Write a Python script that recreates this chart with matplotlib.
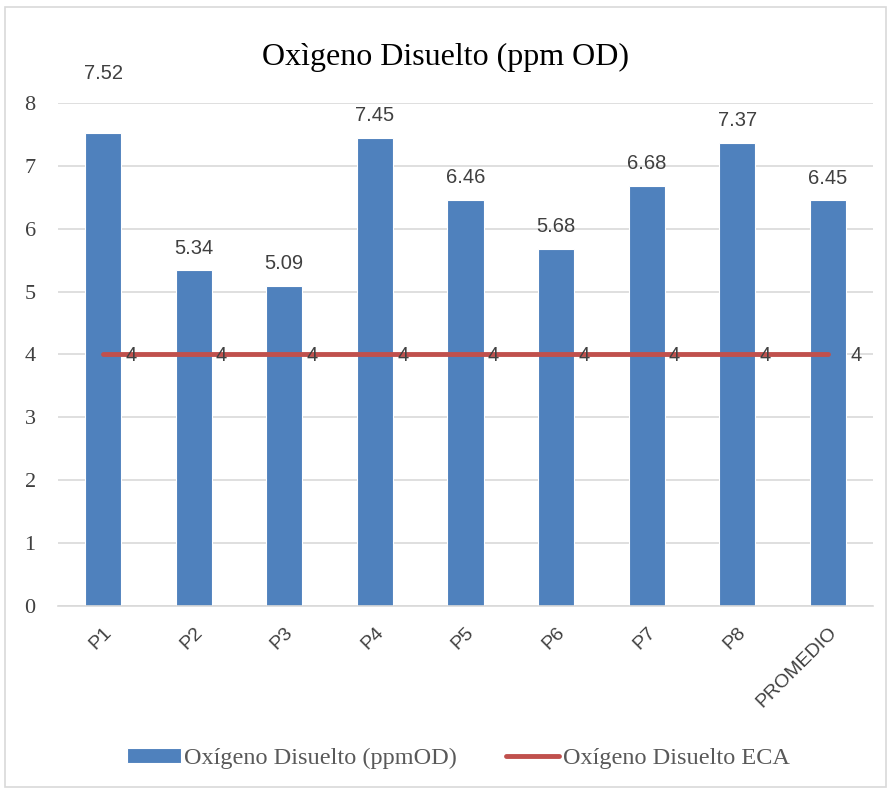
import matplotlib
matplotlib.use('Agg')
import matplotlib.pyplot as plt
from matplotlib.patches import Rectangle

# Dissolved oxygen per sampling point, plus the ECA reference value
puntos = ["P1", "P2", "P3", "P4", "P5", "P6", "P7", "P8", "PROMEDIO"]
od_ppm = [7.52, 5.34, 5.09, 7.45, 6.46, 5.68, 6.68, 7.37, 6.45]
od_eca = [4, 4, 4, 4, 4, 4, 4, 4, 4]

BLUE = "#4f81bd"
RED = "#c0504d"
GRID = "#d9d9d9"
TXT = "#404040"
SERIF = "Liberation Serif"
SANS = "Liberation Sans"

fig = plt.figure(figsize=(8.9, 7.92), dpi=100)
ax = fig.add_axes([0.065, 0.235, 0.916, 0.635])

# outer chart frame
fig.patches.append(Rectangle((0.006, 0.006), 0.989, 0.985, transform=fig.transFigure,
                             fill=False, edgecolor=GRID, linewidth=1.2))

x = range(len(puntos))
bars = ax.bar(x, od_ppm, width=0.4, color=BLUE, edgecolor="white", linewidth=0.8,
              label="Oxígeno Disuelto (ppmOD)", zorder=2)
line, = ax.plot(x, od_eca, color=RED, linewidth=3.5, solid_capstyle="round",
                label="Oxígeno Disuelto ECA", zorder=3)

# value labels above the bars (the first one sits higher, above the top gridline)
extra = [27, 0, 0, 0, 0, 0, 0, 0, 0]
for i, (b, v) in enumerate(zip(bars, od_ppm)):
    ax.annotate(f"{v:.2f}", (b.get_x() + b.get_width() / 2, v), xytext=(0, 9 + extra[i]),
                textcoords="offset points", ha="center", va="bottom",
                fontsize=14.5, family=SANS, color=TXT, annotation_clip=False)
for i, v in enumerate(od_eca):
    ax.annotate(f"{v}", (i, v), xytext=(16, -1), textcoords="offset points",
                ha="left", va="center", fontsize=14.5, family=SANS, color=TXT, zorder=4)

ax.set_ylim(0, 8)
ax.set_xlim(-0.5, len(puntos) - 0.5)
ax.set_yticks(range(0, 9))
ax.yaxis.grid(True, color=GRID, linewidth=1.2, zorder=0)
ax.set_axisbelow(True)
for s in ["top", "right", "left"]:
    ax.spines[s].set_visible(False)
ax.spines["bottom"].set_color(GRID)
ax.spines["bottom"].set_linewidth(1.2)
ax.tick_params(axis="both", length=0)
ax.tick_params(axis="y", pad=16)
ax.tick_params(axis="x", pad=13)
ax.set_xticks(list(x))
ax.set_xticklabels(puntos, rotation=45, ha="right", rotation_mode="anchor",
                   fontsize=14, family=SANS, color=TXT)
for t in ax.get_yticklabels():
    t.set_fontfamily(SERIF)
    t.set_fontsize(16)
    t.set_color(TXT)

fig.text(0.5, 0.928, "Oxìgeno Disuelto (ppm OD)", ha="center", va="center",
         fontsize=23, family=SERIF, color="black")

leg = fig.legend([bars, line], ["Oxígeno Disuelto (ppmOD)", "Oxígeno Disuelto ECA"],
                 loc="center", bbox_to_anchor=(0.515, 0.042), ncol=2, frameon=False,
                 prop={"family": SERIF, "size": 17.5}, handlelength=2.2, handleheight=0.55,
                 handletextpad=0.15, columnspacing=2.0)
for t in leg.get_texts():
    t.set_color("#595959")

fig.savefig("out.png", dpi=100)
